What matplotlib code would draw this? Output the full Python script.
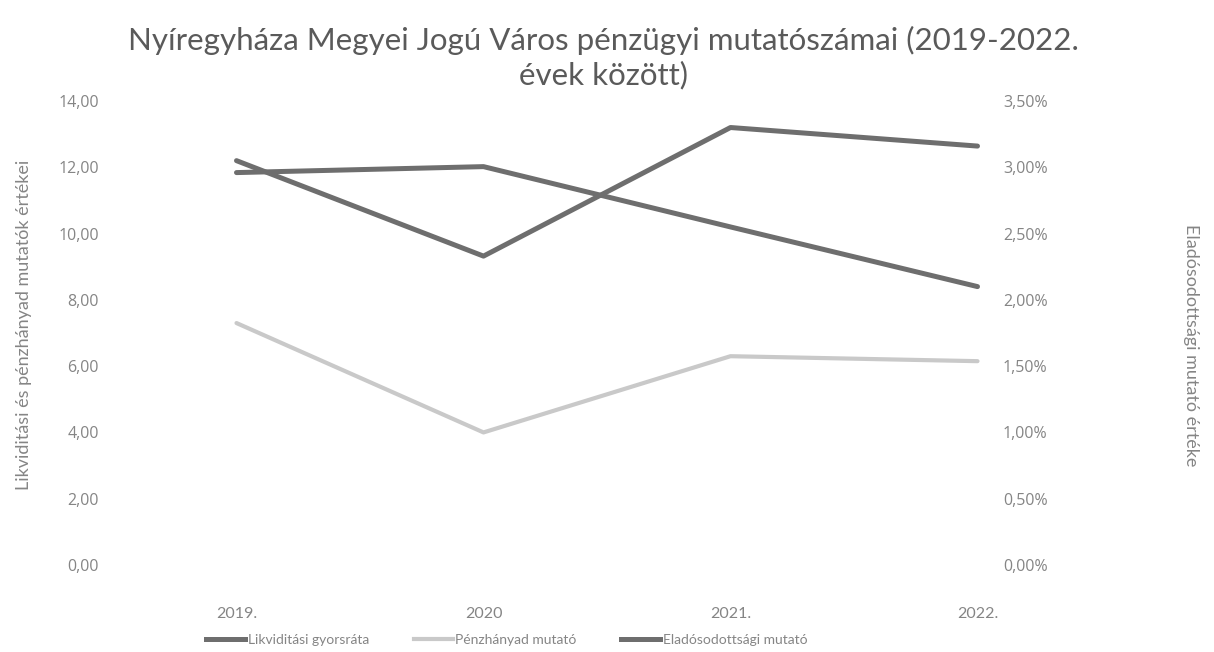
import matplotlib
matplotlib.use("Agg")
import matplotlib.pyplot as plt
from matplotlib.ticker import FuncFormatter
from matplotlib.lines import Line2D

years = ["2019.", "2020", "2021.", "2022."]
likviditasi = [11.84, 12.02, 10.20, 8.40]
penzhanyad = [7.30, 4.00, 6.30, 6.15]
eladosodottsagi = [0.0305, 0.0233, 0.0330, 0.0316]

title_line1 = "Nyíregyháza Megyei Jogú Város pénzügyi mutatószámai (2019-2022."
title_line2 = "évek között)"
left_label = "Likviditási és pénzhányad mutatók értékei"
right_label = "Eladósodottsági mutató értéke"
series_names = ["Likviditási gyorsráta", "Pénzhányad mutató", "Eladósodottsági mutató"]

dark = "#6e6e6e"
light = "#c9c9c9"
txt = "#858585"

plt.rcParams['font.family'] = ['Open Sans', 'DejaVu Sans']

W, H = 1214, 652
fig = plt.figure(figsize=(W / 100, H / 100), dpi=100)

# main axes (left scale)
L, R1, T, B = 113, 1101, 101, 565
ax = fig.add_axes([L / W, 1 - B / H, (R1 - L) / W, (B - T) / H])
# secondary axes (right scale), narrower so its labels sit close to the plot
R2 = 1003
ax2 = fig.add_axes([L / W, 1 - B / H, (R2 - L) / W, (B - T) / H], facecolor='none')

n = len(years)
x = list(range(n))
unit = (R1 - L) / n
ax.set_xlim(-0.5, n - 0.5)
ax2.set_xlim(-0.5, -0.5 + (R2 - L) / unit)

ax.plot(x, likviditasi, color=dark, lw=3.6, solid_capstyle='round', zorder=3)
ax.plot(x, penzhanyad, color=light, lw=3.0, solid_capstyle='round', zorder=2)
ax2.plot(x, eladosodottsagi, color=dark, lw=3.6, solid_capstyle='round', zorder=3)

ax.set_ylim(0, 14)
ax2.set_ylim(0, 0.035)
ax.set_yticks([0, 2, 4, 6, 8, 10, 12, 14])
ax2.set_yticks([0, 0.005, 0.01, 0.015, 0.02, 0.025, 0.03, 0.035])
ax.yaxis.set_major_formatter(FuncFormatter(lambda v, p: f"{v:.2f}".replace('.', ',')))
ax2.yaxis.set_major_formatter(FuncFormatter(lambda v, p: f"{v*100:.2f}%".replace('.', ',')))
ax2.yaxis.tick_right()
ax2.yaxis.set_label_position('right')
ax2.set_xticks([])
ax.set_xticks(x)
ax.set_xticklabels(years, fontsize=11, color=txt, family='Lato')

for a in (ax, ax2):
    for s in a.spines.values():
        s.set_visible(False)
    a.tick_params(length=0, colors=txt, labelsize=11.5)
ax.tick_params(axis='y', pad=10)
ax2.tick_params(axis='y', pad=0)
ax.tick_params(axis='x', pad=30)

ax.set_ylabel(left_label, color=txt, fontsize=13, family='Lato')
ax.yaxis.set_label_coords(-81 / (R1 - L), 0.517)
ax2.set_ylabel(right_label, color=txt, fontsize=13, family='Lato', rotation=270)
ax2.yaxis.set_label_coords(1 + (1199 - R2) / (R2 - L), 0.474)

fig.text(0.497, 1 - 40 / H, title_line1,
         ha='center', va='center', fontsize=22.5, color="#5a5a5a", family='Lato')
fig.text(0.497, 1 - 75 / H, title_line2,
         ha='center', va='center', fontsize=22.5, color="#5a5a5a", family='Lato')

handles = [Line2D([], [], color=dark, lw=3.6),
           Line2D([], [], color=light, lw=3.0),
           Line2D([], [], color=dark, lw=3.6)]
leg = fig.legend(handles, series_names, loc='center', bbox_to_anchor=(507 / W, 1 - 640 / H),
                 ncol=3, frameon=False, handlelength=2.8, columnspacing=3.2,
                 handletextpad=0.2, prop={'family': 'Lato', 'size': 10})
for t in leg.get_texts():
    t.set_color(txt)

fig.savefig("out.png", dpi=100)
